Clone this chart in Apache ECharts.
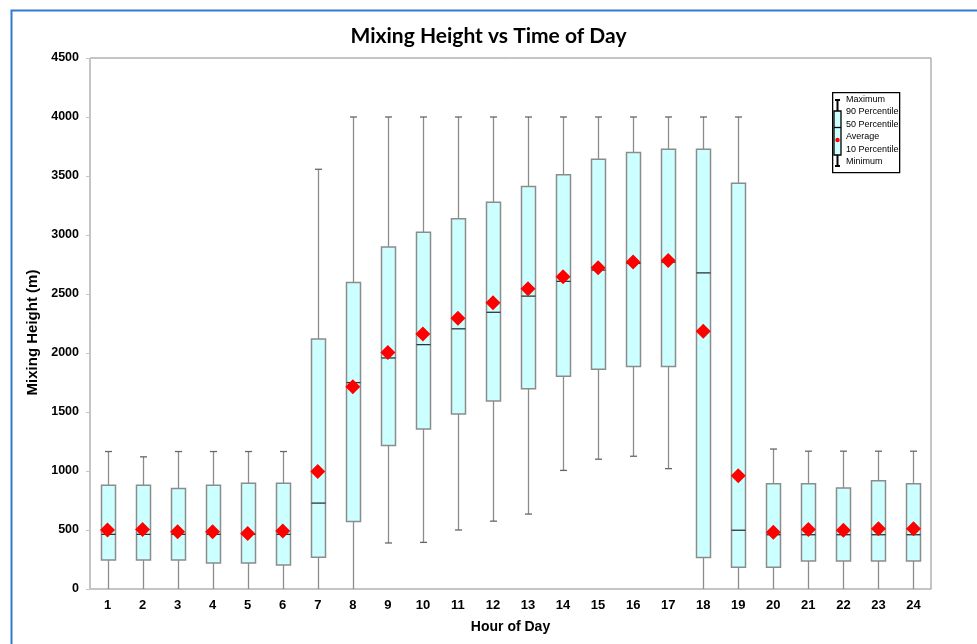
<!DOCTYPE html>
<html>
<head>
<meta charset="utf-8">
<script src="https://cdn.jsdelivr.net/npm/echarts@6/dist/echarts.min.js"></script>
<style>
  html, body { margin: 0; padding: 0; background: #fff; }
  #chart { width: 977px; height: 644px; }
</style>
</head>
<body>
<div id="chart"></div>
<script>
// hour of day categories
var hours = ['1','2','3','4','5','6','7','8','9','10','11','12','13','14','15','16','17','18','19','20','21','22','23','24'];
var yTicks = [0, 500, 1000, 1500, 2000, 2500, 3000, 3500, 4000, 4500];

// mixing height (m) statistics per hour
var minimum = [0, 0, 0, 0, 0, 0, 0, 0, 390, 395, 500, 575, 635, 1005, 1100, 1125, 1020, 0, 0, 0, 0, 0, 0, 0];
var p10     = [245, 245, 245, 220, 220, 203, 270, 572, 1216, 1356, 1484, 1594, 1698, 1803, 1862, 1886, 1886, 268, 185, 185, 238, 238, 238, 238];
var p50     = [463, 463, 463, 463, 463, 463, 728, 1749, 1958, 2071, 2205, 2345, 2482, 2607, 2703, 2760, 2770, 2679, 498, 460, 460, 460, 460, 460];
var p90     = [880, 880, 852, 880, 897, 897, 2118, 2598, 2899, 3024, 3138, 3278, 3412, 3510, 3641, 3700, 3727, 3727, 3439, 891, 891, 855, 918, 891];
var maximum = [1165, 1120, 1165, 1165, 1165, 1165, 3557, 4000, 4000, 4000, 4000, 4000, 4000, 4000, 4000, 4000, 4000, 4000, 4000, 1186, 1168, 1168, 1168, 1168];
var average = [499, 505, 485, 485, 471, 491, 996, 1713, 2005, 2160, 2294, 2426, 2545, 2646, 2723, 2771, 2783, 2184, 959, 480, 504, 498, 510, 510];

var legendLabels = ['Maximum', '90 Percentile', '50 Percentile', 'Average', '10 Percentile', 'Minimum'];

var boxData = hours.map(function (h, i) {
    return [i, minimum[i], p10[i], p50[i], p90[i], maximum[i]];
});
var avgData = hours.map(function (h, i) {
    return [h, average[i]];
});

function renderBox(params, api) {
    var x = api.value(0);
    var pMin = api.coord([x, api.value(1)]);
    var pQ1 = api.coord([x, api.value(2)]);
    var pMed = api.coord([x, api.value(3)]);
    var pQ3 = api.coord([x, api.value(4)]);
    var pMax = api.coord([x, api.value(5)]);
    var cx = Math.round(pMin[0]) + 0.5;
    var bw = 14, cw = 3.5;
    var grey = { stroke: '#8c8c8c', lineWidth: 1.3 };
    var parts = [
        { type: 'line', shape: { x1: cx, y1: pMin[1], x2: cx, y2: pQ1[1] }, style: grey },
        { type: 'line', shape: { x1: cx, y1: pQ3[1], x2: cx, y2: pMax[1] }, style: grey },
        { type: 'line', shape: { x1: cx - cw, y1: pMax[1], x2: cx + cw, y2: pMax[1] }, style: { stroke: '#666', lineWidth: 1.3 } }
    ];
    if (api.value(1) > 0) {
        parts.push({ type: 'line', shape: { x1: cx - cw, y1: pMin[1], x2: cx + cw, y2: pMin[1] }, style: { stroke: '#666', lineWidth: 1.3 } });
    }
    parts.push(
        { type: 'rect', shape: { x: cx - bw / 2, y: pQ3[1], width: bw, height: pQ1[1] - pQ3[1] },
          style: { fill: '#ccffff', stroke: '#8c8c8c', lineWidth: 1.5 } },
        { type: 'line', shape: { x1: cx - bw / 2, y1: pMed[1], x2: cx + bw / 2, y2: pMed[1] },
          style: { stroke: '#333', lineWidth: 1.3 } }
    );
    return { type: 'group', children: parts };
}

// small legend drawn as a boxplot glyph
var legendGraphics = [
    { type: 'rect', left: 832, top: 92, shape: { width: 67, height: 80 }, style: { fill: '#fff', stroke: '#000', lineWidth: 1.3 } },
    { type: 'line', shape: { x1: 837.5, y1: 100, x2: 837.5, y2: 166 }, style: { stroke: '#000', lineWidth: 2 } },
    { type: 'line', shape: { x1: 835, y1: 100, x2: 840, y2: 100 }, style: { stroke: '#000', lineWidth: 2 } },
    { type: 'line', shape: { x1: 835, y1: 166, x2: 840, y2: 166 }, style: { stroke: '#000', lineWidth: 2 } },
    { type: 'rect', shape: { x: 834, y: 111, width: 7, height: 44 }, style: { fill: '#ccffff', stroke: '#000', lineWidth: 1.3 } },
    { type: 'line', shape: { x1: 834, y1: 127.5, x2: 841, y2: 127.5 }, style: { stroke: '#000', lineWidth: 1.3 } },
    { type: 'circle', shape: { cx: 837.5, cy: 140, r: 2.2 }, style: { fill: '#ff0000' } }
];
legendLabels.forEach(function (t, i) {
    legendGraphics.push({
        type: 'text', left: 846, top: 95 + i * 12.4,
        style: { text: t, font: '9px "Liberation Sans", Arial, sans-serif', fill: '#000' }
    });
});
// outer blue frame
legendGraphics.push({
    type: 'rect', left: 9, top: 8, shape: { width: 1000, height: 700 },
    style: { fill: 'none', stroke: '#2e7bcf', lineWidth: 2 }, z: 100
});

var chart = echarts.init(document.getElementById('chart'));
var option = {
    backgroundColor: '#fff',
    animation: false,
    title: {
        text: 'Mixing Height vs Time of Day',
        left: 'center',
        top: 21,
        textStyle: { fontFamily: 'Lato', fontWeight: 'bold', fontSize: 21, color: '#000' }
    },
    grid: {
        left: 90, right: 46, top: 58, bottom: 55,
        show: true, borderColor: '#8a8a8a', borderWidth: 1
    },
    xAxis: {
        type: 'category',
        data: hours,
        name: 'Hour of Day',
        nameLocation: 'middle',
        nameGap: 31,
        nameTextStyle: { fontFamily: 'Liberation Sans', fontWeight: 'bold', fontSize: 14, color: '#000' },
        axisLine: { lineStyle: { color: '#c4c4c4', width: 1 } },
        axisTick: { length: 4, lineStyle: { color: '#c4c4c4' } },
        axisLabel: { fontFamily: 'Liberation Sans', fontWeight: 'bold', fontSize: 13, color: '#000', margin: 10 },
        splitLine: { show: false }
    },
    yAxis: {
        type: 'value',
        min: yTicks[0],
        max: yTicks[yTicks.length - 1],
        interval: 500,
        name: 'Mixing Height (m)',
        nameLocation: 'middle',
        nameGap: 49,
        nameTextStyle: { fontFamily: 'Liberation Sans', fontWeight: 'bold', fontSize: 15, color: '#000', padding: [0, 0, 0, -18] },
        axisLine: { show: true, lineStyle: { color: '#c4c4c4', width: 1 } },
        axisTick: { show: true, length: 4, lineStyle: { color: '#c4c4c4' } },
        axisLabel: {
            fontFamily: 'Liberation Sans', fontWeight: 'bold', fontSize: 12.5, color: '#000', margin: 11,
            formatter: function (v) { return String(v); }
        },
        splitLine: { show: false }
    },
    graphic: legendGraphics,
    series: [
        {
            name: 'range',
            type: 'custom',
            renderItem: renderBox,
            encode: { x: 0, y: [1, 2, 3, 4, 5] },
            data: boxData,
            z: 2
        },
        {
            name: 'Average',
            type: 'scatter',
            symbol: 'diamond',
            symbolSize: [15, 15],
            itemStyle: { color: '#ff0000', opacity: 1 },
            data: avgData,
            z: 5
        }
    ]
};
chart.setOption(option);
</script>
</body>
</html>
